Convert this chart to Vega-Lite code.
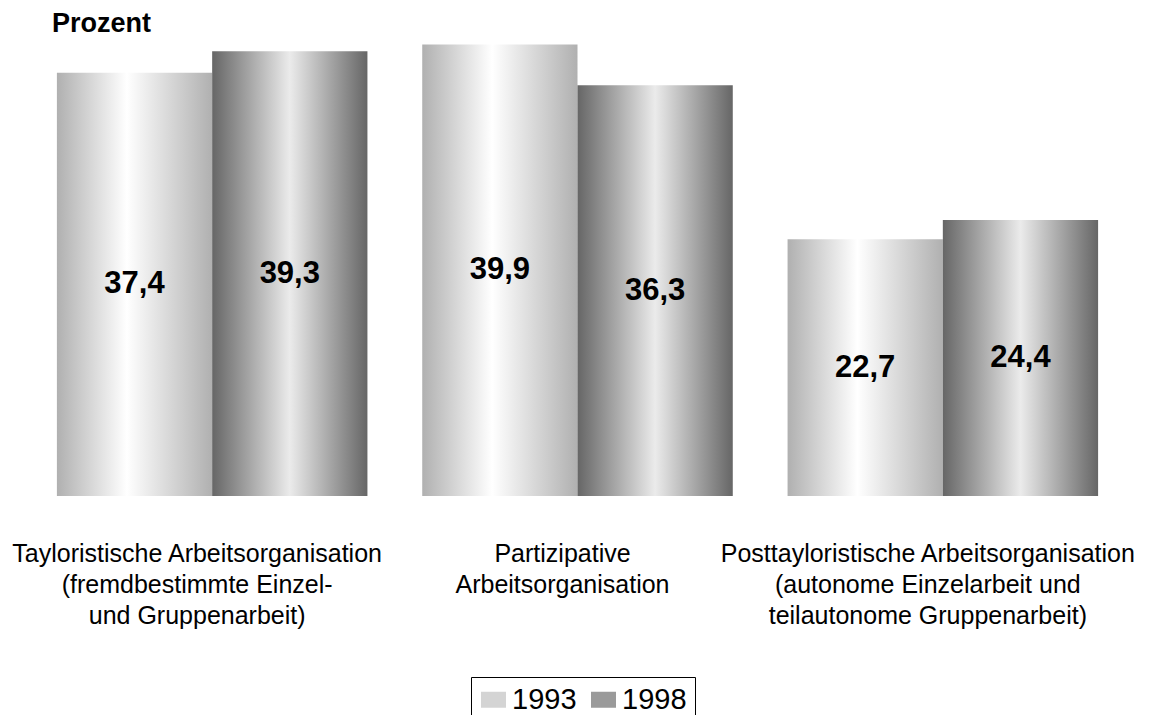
{
  "$schema": "https://vega.github.io/schema/vega-lite/v6.json",
  "autosize": "none",
  "padding": {"left": 29.5, "top": 40, "right": 24.5, "bottom": 219},
  "width": 1096,
  "height": 456,
  "title": {
    "text": "Prozent",
    "anchor": "start",
    "frame": "group",
    "dx": 22.5,
    "dy": 27,
    "offset": 8,
    "baseline": "alphabetic",
    "font": "Liberation Sans",
    "fontSize": 27,
    "fontWeight": "bold",
    "color": "#000000"
  },
  "data": {
    "values": [
      {"category": "Tayloristische Arbeitsorganisation\n(fremdbestimmte Einzel-\nund Gruppenarbeit)", "year": "1993", "value": 37.4},
      {"category": "Tayloristische Arbeitsorganisation\n(fremdbestimmte Einzel-\nund Gruppenarbeit)", "year": "1998", "value": 39.3},
      {"category": "Partizipative\nArbeitsorganisation", "year": "1993", "value": 39.9},
      {"category": "Partizipative\nArbeitsorganisation", "year": "1998", "value": 36.3},
      {"category": "Posttayloristische Arbeitsorganisation\n(autonome Einzelarbeit und\nteilautonome Gruppenarbeit)", "year": "1993", "value": 22.7},
      {"category": "Posttayloristische Arbeitsorganisation\n(autonome Einzelarbeit und\nteilautonome Gruppenarbeit)", "year": "1998", "value": 24.4}
    ]
  },
  "encoding": {
    "x": {
      "field": "category",
      "type": "nominal",
      "sort": null,
      "scale": {"paddingInner": 0.15, "paddingOuter": 0.075},
      "axis": {
        "title": null,
        "labelAngle": 0,
        "ticks": false,
        "domain": false,
        "labelExpr": "split(datum.label, '\\n')",
        "labelFont": "Liberation Sans",
        "labelFontSize": 25,
        "labelLineHeight": 31,
        "labelColor": "#000000",
        "labelBaseline": "top",
        "labelPadding": 45,
        "labelOffset": -15,
        "labelLimit": 0
      }
    },
    "xOffset": {
      "field": "year",
      "type": "nominal",
      "scale": {"paddingInner": 0, "paddingOuter": 0}
    },
    "y": {
      "field": "value",
      "type": "quantitative",
      "scale": {"domain": [0, 40.3], "nice": false},
      "axis": null
    }
  },
  "layer": [
    {
      "mark": {"type": "bar", "opacity": 0},
      "encoding": {
        "color": {
          "field": "year",
          "type": "nominal",
          "scale": {"range": ["#d4d4d4", "#9a9a9a"]},
          "legend": {
            "title": null,
            "orient": "none",
            "direction": "horizontal",
            "legendX": 441.5,
            "legendY": 637,
            "padding": 8,
            "strokeColor": "#000000",
            "fillColor": "#ffffff",
            "symbolType": "M-1,-0.64H1V0.64H-1Z",
            "symbolSize": 625,
            "symbolStrokeWidth": 0,
            "symbolOpacity": 1,
            "labelFont": "Liberation Sans",
            "labelFontSize": 29,
            "labelColor": "#000000",
            "labelOffset": 4,
            "columnPadding": 12
          }
        }
      }
    },
    {
      "mark": {"type": "bar"},
      "encoding": {
        "fill": {
          "condition": {
            "test": "datum.year === '1993'",
            "value": {"gradient": "linear", "x1": 0, "y1": 0, "x2": 1, "y2": 0, "stops": [
              {"offset": 0, "color": "#b0b0b0"},
              {"offset": 0.45, "color": "#ffffff"},
              {"offset": 1, "color": "#b0b0b0"}
            ]}
          },
          "value": {"gradient": "linear", "x1": 0, "y1": 0, "x2": 1, "y2": 0, "stops": [
            {"offset": 0, "color": "#666666"},
            {"offset": 0.5, "color": "#ebebeb"},
            {"offset": 1, "color": "#666666"}
          ]}
        }
      }
    },
    {
      "transform": [{"calculate": "datum.value / 2", "as": "mid"}],
      "mark": {
        "type": "text",
        "font": "Liberation Sans",
        "fontSize": 31,
        "fontWeight": "bold",
        "color": "#000000",
        "baseline": "middle",
        "align": "center"
      },
      "encoding": {
        "y": {"field": "mid", "type": "quantitative", "scale": {"domain": [0, 40.3], "nice": false}},
        "text": {"field": "value", "type": "quantitative", "format": ".1f"}
      }
    }
  ],
  "config": {
    "view": {"stroke": null},
    "locale": {"number": {"decimal": ",", "thousands": ".", "grouping": [3], "currency": ["", " €"]}}
  }
}
